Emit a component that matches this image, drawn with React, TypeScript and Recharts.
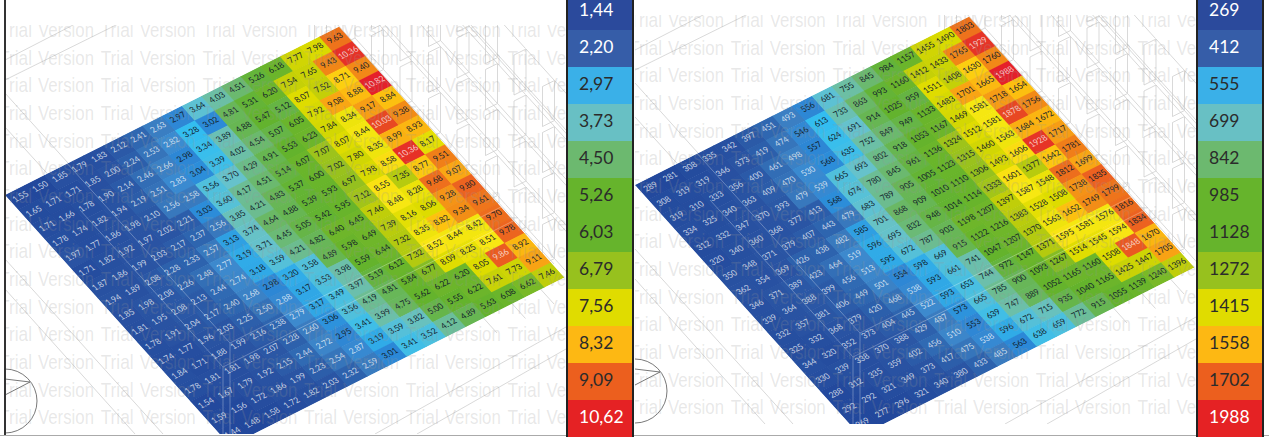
import { Bar, BarChart, Cell, LabelList, ReferenceDot, ReferenceLine, Scatter, ScatterChart, XAxis, YAxis } from 'recharts';

// values are read row by row, from the upper-left edge of the plate to the lower-right one
const LEFT_ROWS = [
  [1.55, 1.50, 1.85, 1.79, 1.83, 2.12, 2.41, 2.63, 2.97, 3.64, 4.03, 4.51, 5.26, 6.18, 7.77, 7.98, 9.63],
  [1.65, 1.71, 1.71, 1.85, 2.00, 2.24, 2.53, 2.82, 3.28, 3.02, 4.81, 5.31, 6.20, 7.54, 7.65, 9.43, 10.36],
  [1.71, 1.66, 1.78, 1.90, 2.14, 2.46, 2.66, 2.98, 3.34, 3.89, 4.88, 5.47, 5.12, 8.07, 7.52, 8.71, 9.40],
  [1.78, 1.74, 1.82, 1.94, 2.19, 2.51, 2.83, 3.04, 3.39, 4.02, 4.54, 5.07, 6.05, 7.92, 9.08, 8.88, 10.82],
  [1.97, 1.77, 1.86, 1.98, 2.10, 2.56, 2.58, 3.56, 3.70, 4.29, 4.91, 5.53, 6.23, 7.84, 8.34, 9.17, 8.84],
  [1.71, 1.82, 1.92, 1.97, 2.02, 2.21, 3.03, 3.60, 4.17, 4.51, 5.14, 6.07, 7.07, 8.07, 8.44, 10.03, 9.38],
  [1.87, 1.86, 1.99, 2.03, 2.17, 2.37, 2.56, 3.85, 4.21, 4.83, 5.37, 6.00, 7.02, 7.80, 8.35, 8.99, 8.93],
  [1.94, 1.89, 2.08, 2.28, 2.33, 2.57, 3.13, 3.74, 4.64, 4.88, 5.39, 5.93, 6.97, 7.98, 8.58, 10.36, 8.17],
  [1.85, 1.98, 2.08, 2.26, 2.48, 2.77, 3.19, 3.71, 4.45, 5.05, 5.42, 5.95, 7.12, 8.55, 7.35, 8.77, 9.51],
  [1.81, 1.95, 2.08, 2.13, 2.44, 2.74, 3.18, 3.59, 4.21, 4.82, 6.40, 6.45, 7.46, 8.48, 8.28, 9.68, 9.07],
  [1.78, 1.91, 2.04, 2.17, 2.40, 2.68, 2.98, 3.20, 3.58, 4.89, 5.98, 6.49, 7.39, 8.16, 8.06, 9.28, 9.80],
  [1.74, 1.77, 1.96, 2.03, 2.25, 2.50, 2.88, 3.17, 3.53, 3.98, 5.59, 6.44, 7.32, 8.35, 8.82, 9.34, 9.61],
  [1.84, 1.71, 1.88, 1.99, 2.16, 2.38, 2.79, 3.17, 3.49, 3.97, 5.19, 6.12, 7.32, 8.52, 8.44, 8.42, 9.70],
  [1.78, 1.81, 1.81, 1.98, 2.07, 2.28, 2.60, 3.06, 3.56, 4.19, 4.81, 5.84, 6.77, 8.09, 8.25, 8.51, 9.78],
  [1.54, 1.67, 1.79, 1.92, 2.15, 2.44, 2.72, 2.95, 3.41, 3.99, 4.75, 5.62, 6.22, 6.20, 8.05, 9.86, 8.92],
  [1.59, 1.56, 1.72, 1.86, 1.99, 2.23, 2.54, 2.87, 3.19, 3.59, 3.82, 5.00, 5.55, 6.22, 7.61, 7.73, 9.11],
  [1.44, 1.48, 1.58, 1.72, 1.82, 2.03, 2.32, 2.59, 3.01, 3.41, 3.52, 4.12, 4.89, 5.63, 6.08, 6.62, 7.46],
];

const RIGHT_ROWS = [
  [289, 281, 308, 335, 342, 397, 451, 493, 556, 681, 755, 845, 984, 1157, 1455, 1490, 1803],
  [308, 319, 319, 346, 373, 419, 474, 546, 613, 733, 863, 993, 1160, 1412, 1433, 1765, 1929],
  [319, 310, 333, 356, 400, 461, 498, 557, 624, 691, 914, 1025, 959, 1511, 1408, 1630, 1760],
  [334, 325, 340, 363, 409, 470, 530, 568, 635, 752, 849, 949, 1133, 1483, 1701, 1665, 1988],
  [312, 332, 347, 370, 393, 479, 539, 665, 693, 802, 918, 1053, 1167, 1469, 1581, 1718, 1654],
  [320, 340, 360, 368, 377, 413, 568, 674, 780, 845, 961, 1136, 1324, 1512, 1581, 1878, 1756],
  [350, 348, 371, 379, 407, 443, 479, 683, 789, 905, 1005, 1123, 1315, 1460, 1563, 1684, 1672],
  [362, 354, 369, 426, 438, 482, 585, 701, 868, 909, 1010, 1110, 1306, 1493, 1606, 1928, 1717],
  [346, 371, 389, 423, 464, 519, 596, 695, 832, 948, 1014, 1114, 1333, 1601, 1377, 1642, 1781],
  [339, 364, 388, 399, 456, 513, 595, 672, 787, 903, 1198, 1207, 1397, 1587, 1548, 1812, 1699],
  [332, 357, 381, 406, 449, 501, 554, 598, 669, 915, 1122, 1216, 1383, 1528, 1508, 1738, 1835],
  [325, 332, 368, 379, 420, 468, 538, 593, 661, 741, 1047, 1207, 1370, 1563, 1652, 1749, 1799],
  [344, 320, 352, 373, 404, 445, 522, 593, 653, 744, 972, 1147, 1371, 1595, 1581, 1576, 1816],
  [330, 339, 338, 370, 388, 429, 487, 573, 665, 785, 900, 1093, 1267, 1514, 1545, 1594, 1834],
  [288, 312, 335, 359, 402, 456, 510, 553, 639, 747, 889, 1052, 1165, 1160, 1508, 1848, 1670],
  [292, 292, 321, 349, 373, 417, 475, 538, 596, 672, 715, 935, 1040, 1165, 1425, 1447, 1705],
  [269, 277, 296, 321, 340, 380, 433, 485, 563, 638, 659, 772, 915, 1055, 1139, 1240, 1396],
];

const LEFT_LEGEND = ['1,44', '2,20', '2,97', '3,73', '4,50', '5,26', '6,03', '6,79', '7,56', '8,32', '9,09', '10,62'];
const RIGHT_LEGEND = ['269', '412', '555', '699', '842', '985', '1128', '1272', '1415', '1558', '1702', '1988'];
const LEGEND_COLORS = ['#2b4a9c', '#365da8', '#3ab0e8', '#68c0c4', '#6cb96f', '#66b42c', '#66b42c', '#97c11e', '#e0dc00', '#fdb813', '#ec5f1e', '#e52224'];
const LEGEND_WHITE = [0, 1, 11];

// colour ramp of the plate, in the units of the left map
const RAMP_VALUES = [1.5, 2.0, 2.4, 2.6, 2.8, 3.0, 3.28, 3.56, 3.7, 4.0, 4.5, 5.0, 5.5, 6.5, 7.0, 7.5, 8.07, 8.5, 8.8, 9.1, 9.5, 9.8, 10.0, 10.6];
const RAMP_COLORS = ['#22489c', '#2a54a3', '#2e66b0', '#3a7cc0', '#3d8bcf', '#2b86d6', '#33bdf0', '#50c0dc', '#66c2cc', '#6cbfa8', '#6bb970', '#66b54a', '#63b32c', '#6fb62a', '#97c11e', '#c3cf08', '#dedc00', '#f8e813', '#fdc40f', '#f8a414', '#f08018', '#ec6320', '#e84a22', '#e5202a'];
const RIGHT_TO_LEFT = 187;

// drawing lines behind the plate: x1, y1, x2, y2
const BACK_LINES = [
  [5, 60, 75, 24], [5, 80, 118, 24],
  [5, 93, 230, 343], [5, 127, 223, 367],
  [5, 259, 163, 434], [5, 289, 135, 434],
  [375, 434, 566, 327], [417, 434, 566, 349],
  [470, 24, 566, 130],
];
const COMPASS_LINES = [[5, 379, 30, 382], [5, 395, 30, 382]];
// the same drawing showing through the plate
const FRONT_LINES = [
  [64, 160, 230, 343], [80, 210, 223, 367],
  [230, 343, 515, 200], [223, 367, 525, 215],
  [230, 343, 230, 434], [223, 367, 223, 434],
];
const WIRE_STEPS_A = [-5, -4, -3, -2, -1, 0, 1, 2, 3];
const WIRE_STEPS_B = [-1, 0, 1, 2, 3, 4, 5, 6];

const WATERMARK_ROWS = [30, 57.7, 85.4, 113, 140.7, 168.4, 196, 223.7, 251.4, 279, 306.7, 334.4, 362, 389.7, 417.4];
const WATERMARK_COLS = [0, 1, 2, 3, 4, 5];

const CELL = 20;
const GRID = 17;
const PANEL_W = 566;
const PANEL_H = 434;
const ANCHOR_POINTS = [{ x: 0, y: 0 }, { x: PANEL_W, y: PANEL_H }];

function rampColor(v: number) {
  if (v <= RAMP_VALUES[0]) return RAMP_COLORS[0];
  for (let i = 1; i < RAMP_VALUES.length; i++) {
    if (v <= RAMP_VALUES[i]) {
      const t = (v - RAMP_VALUES[i - 1]) / (RAMP_VALUES[i] - RAMP_VALUES[i - 1]);
      const a = RAMP_COLORS[i - 1];
      const b = RAMP_COLORS[i];
      const mix = (k: number) => {
        const ca = parseInt(a.slice(k, k + 2), 16);
        const cb = parseInt(b.slice(k, k + 2), 16);
        return Math.round(ca + (cb - ca) * t);
      };
      return `rgb(${mix(1)},${mix(3)},${mix(5)})`;
    }
  }
  return RAMP_COLORS[RAMP_COLORS.length - 1];
}

function buildCells(rows: number[][], scale: number, digits: number) {
  return rows.flatMap((row, r) =>
    row.map((value, c) => ({ col: c + 0.5, row: r + 0.5, tone: value / scale, label: value.toFixed(digits) })),
  );
}

function PlateCell(props: any) {
  const { cx, cy, payload } = props;
  const tone = payload.tone;
  const light = tone < 2.9 || tone >= 9.85;
  return (
    <g>
      <rect x={cx - CELL / 2 - 0.3} y={cy - CELL / 2 - 0.3} width={CELL + 0.6} height={CELL + 0.6} fill={rampColor(tone)} />
      <text transform={`translate(${cx},${cy - 1.5}) scale(0.8,1)`} textAnchor="middle" dominantBaseline="central" fontSize={9} fontFamily="Lato"
        fill={light ? 'rgba(255,255,255,0.75)' : '#12202a'}>
        {payload.label}
      </text>
    </g>
  );
}

function Plate({ data }: { data: any[] }) {
  const size = CELL * GRID;
  return (
    <div style={{ position: 'absolute', left: 0, top: 0, width: size, height: size, transformOrigin: '0 0', transform: 'matrix(0.9825,-0.495,0.6625,0.7375,5,195)' }}>
      <ScatterChart width={size} height={size} margin={{ top: 0, right: 0, bottom: 0, left: 0 }}>
        <XAxis type="number" dataKey="col" domain={[0, GRID]} hide />
        <YAxis type="number" dataKey="row" domain={[0, GRID]} reversed hide />
        <Scatter data={data} shape={PlateCell} isAnimationActive={false} />
      </ScatterChart>
    </div>
  );
}

function LineLayer({ lines, stroke, dark }: { lines: number[][]; stroke: string; dark?: boolean }) {
  return (
    <div style={{ position: 'absolute', left: 0, top: 0 }}>
      <ScatterChart width={PANEL_W} height={PANEL_H} margin={{ top: 0, right: 0, bottom: 0, left: 0 }}>
        <XAxis type="number" dataKey="x" domain={[0, PANEL_W]} hide />
        <YAxis type="number" dataKey="y" domain={[0, PANEL_H]} reversed hide />
        <Scatter data={ANCHOR_POINTS} shape={() => <g />} isAnimationActive={false} />
        {lines.map((l, i) => (
          <ReferenceLine key={i} segment={[{ x: l[0], y: l[1] }, { x: l[2], y: l[3] }]} stroke={stroke} strokeWidth={0.7} ifOverflow="visible" />
        ))}
        {dark && COMPASS_LINES.map((l, i) => (
          <ReferenceLine key={`c${i}`} segment={[{ x: l[0], y: l[1] }, { x: l[2], y: l[3] }]} stroke="#555" strokeWidth={0.8} ifOverflow="visible" />
        ))}
        {dark && <ReferenceDot x={5} y={401} r={32} fill="none" stroke="#555" strokeWidth={0.8} ifOverflow="visible" />}
      </ScatterChart>
    </div>
  );
}

function wireLines() {
  const lines: number[][] = [];
  WIRE_STEPS_A.forEach((a) => {
    WIRE_STEPS_B.forEach((b) => {
      const x = 457 + a * 28.5;
      const y = 38 + a * 31.5 + b * 46;
      if (x > 560 || y < -20 || y > 270) return;
      lines.push(
        [x, y, x, y + 40],
        [x + 12, y - 6, x + 12, y + 34],
        [x, y, x + 12, y - 6],
        [x, y + 40, x + 12, y + 34],
        [x + 12, y - 6, x + 40, y + 25],
        [x + 12, y + 34, x + 40, y + 65],
      );
    });
  });
  return lines;
}

function Watermark() {
  const fill = 'rgba(150,150,150,0.22)';
  const font = { fontSize: 21, fontFamily: 'Liberation Sans', fill, lengthAdjust: 'spacingAndGlyphs' };
  return (
    <svg width={PANEL_W} height={PANEL_H} style={{ position: 'absolute', left: 0, top: 0 }}>
      {WATERMARK_ROWS.map((y) =>
        WATERMARK_COLS.map((k) => (
          <g key={`${y}-${k}`}>
            <text x={-1 + k * 101.7} y={y + 7} textLength={33} {...font}>Trial</text>
            <text x={38 + k * 101.7} y={y + 7} textLength={56} {...font}>Version</text>
          </g>
        )),
      )}
    </svg>
  );
}

function Panel({ left, top, cells }: { left: number; top: number; cells: any[] }) {
  return (
    <div style={{ position: 'absolute', left, top, width: PANEL_W, height: PANEL_H, overflow: 'hidden', clipPath: 'inset(25px 0 0 5px)' }}>
      <LineLayer lines={[...BACK_LINES, ...wireLines()]} stroke="#c8c8c8" dark />
      <Plate data={cells} />
      <LineLayer lines={FRONT_LINES} stroke="rgba(255,255,255,0.42)" />
      <Watermark />
    </div>
  );
}

function LegendLabel(props: any) {
  const { x, y, height, value, index } = props;
  return (
    <text x={x + 13} y={y + height / 2 - 2} dominantBaseline="central" fontSize={17.5} fontFamily="Lato"
      fill={LEGEND_WHITE.includes(index) ? '#ffffff' : '#2b2b2b'}>
      {value}
    </text>
  );
}

function Legend({ left, labels }: { left: number; labels: string[] }) {
  const data = labels.map((label) => ({ label, full: 1 }));
  return (
    <div style={{ position: 'absolute', left, top: 0, width: 68, height: 437, overflow: 'hidden' }}>
      <div style={{ position: 'absolute', left: 0, top: -7 }}>
        <BarChart layout="vertical" width={68} height={444} data={data} barCategoryGap={0} margin={{ top: 0, right: 0, bottom: 0, left: 0 }}>
          <XAxis type="number" domain={[0, 1]} hide />
          <YAxis type="category" dataKey="label" hide />
          <Bar dataKey="full" isAnimationActive={false}>
            {data.map((d, i) => <Cell key={d.label} fill={LEGEND_COLORS[i]} />)}
            <LabelList dataKey="label" content={LegendLabel} />
          </Bar>
        </BarChart>
      </div>
      <div style={{ position: 'absolute', left: 0, top: 0, width: 2, height: 437, background: '#222' }} />
      <div style={{ position: 'absolute', right: 0, top: 0, width: 2, height: 437, background: '#222' }} />
    </div>
  );
}

export default function App() {
  const leftCells = buildCells(LEFT_ROWS, 1, 2);
  const rightCells = buildCells(RIGHT_ROWS, RIGHT_TO_LEFT, 0);
  return (
    <div style={{ position: 'fixed', left: 0, top: 0, width: 1269, height: 437, overflow: 'hidden', background: '#fff' }}>
      <Panel left={0} top={0} cells={leftCells} />
      <Panel left={630} top={-10} cells={rightCells} />
      <div style={{ position: 'absolute', left: 4, top: 0, width: 2, height: 435, background: '#333' }} />
      <div style={{ position: 'absolute', left: 0, top: 434.5, width: 1269, height: 1.5, background: '#aaa' }} />
      <Legend left={566} labels={LEFT_LEGEND} />
      <Legend left={1196} labels={RIGHT_LEGEND} />
    </div>
  );
}
